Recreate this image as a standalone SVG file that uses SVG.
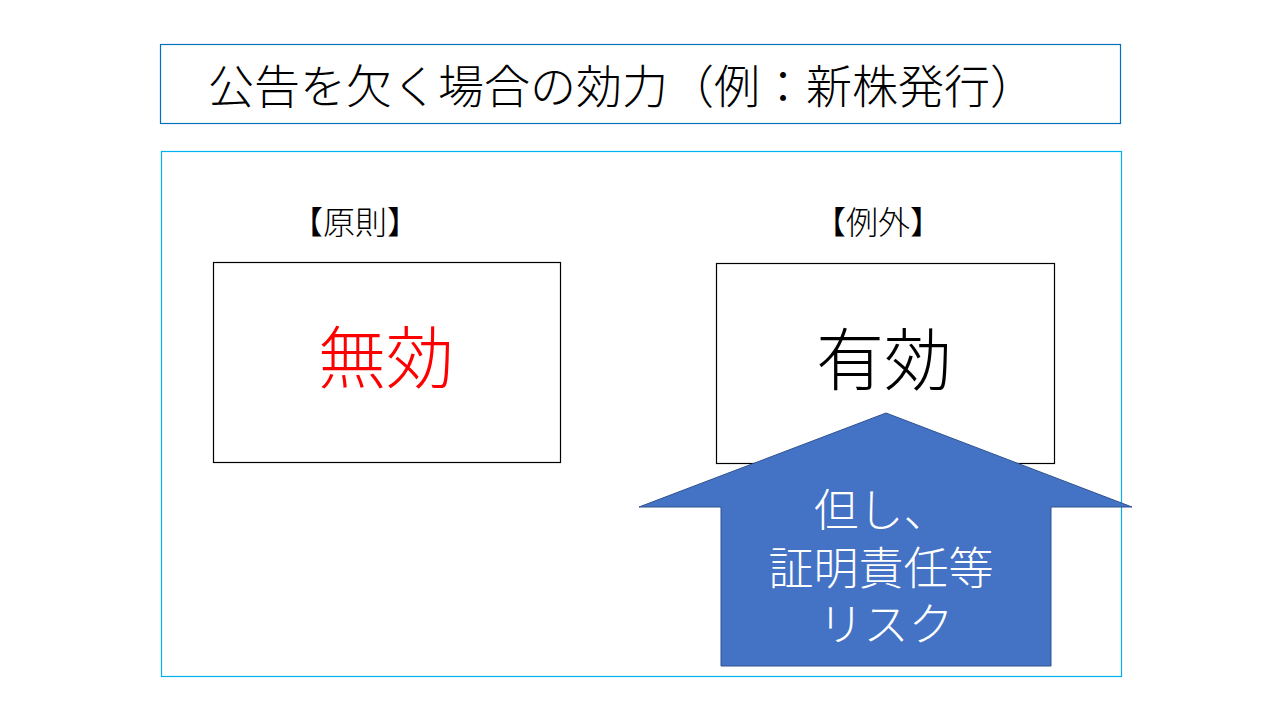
<svg xmlns="http://www.w3.org/2000/svg" width="1280" height="720" viewBox="0 0 1280 720">
<style>
text{font-family:"Noto Sans CJK JP","Noto Sans CJK SC",sans-serif;font-weight:300;}
.box{fill:#fff;stroke:#000;stroke-width:1.2;}
</style>
<rect width="1280" height="720" fill="#fff"/>
<g id="title">
<rect x="160.5" y="44.5" width="960" height="79" fill="#fff" stroke="#0070C0" stroke-width="1.2"/>
<text x="208" y="103" font-size="46" fill="#000">公告を欠く場合の効力（例：新株発行）</text>
</g>
<g id="frame">
<rect x="161.5" y="151.5" width="960" height="525" fill="none" stroke="#00B0F0" stroke-width="1.2"/>
</g>
<g id="principle">
<text x="355" y="234" font-size="32" text-anchor="middle" fill="#000">【原則】</text>
<rect class="box" x="213.5" y="262.5" width="347" height="200"/>
<text x="386" y="383" font-size="68" text-anchor="middle" fill="#FF0000">無効</text>
</g>
<g id="exception">
<text x="878" y="234" font-size="32" text-anchor="middle" fill="#000">【例外】</text>
<rect class="box" x="716.5" y="263.5" width="338" height="200"/>
<text x="884" y="385" font-size="68" text-anchor="middle" fill="#000">有効</text>
</g>
<g id="connectors">
<g id="risk-arrow">
<polygon points="886,413 1132,507 1051,507 1051,666 721,666 721,507 639,507" fill="#4472C4" stroke="#2F528F" stroke-width="1"/>
<text font-size="45" text-anchor="middle" fill="#fff">
<tspan x="886" y="527">但し、</tspan>
<tspan x="886" y="585">証明責任等</tspan>
<tspan x="886" y="641">リスク</tspan>
</text>
</g>
</g>
</svg>
